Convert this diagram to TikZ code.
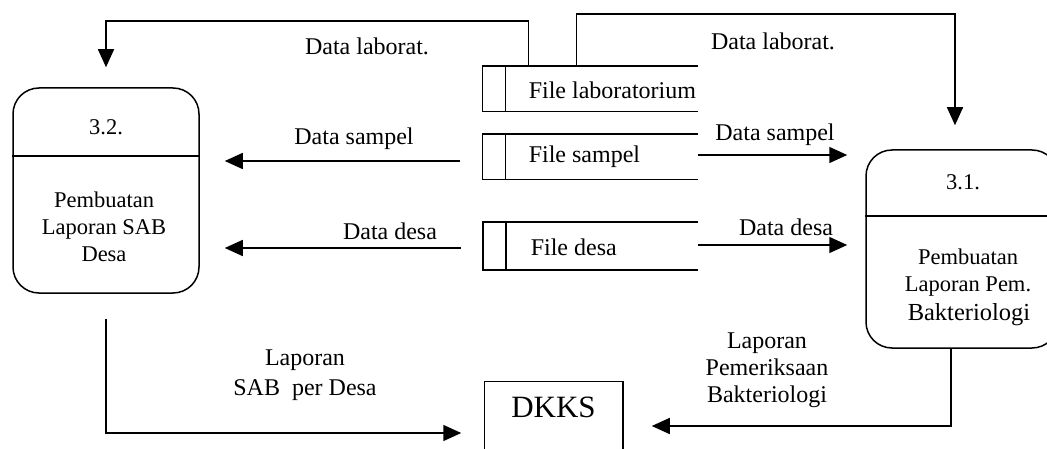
\documentclass[tikz,border=0pt]{standalone}
\usepackage{fontspec}
\setmainfont{Liberation Serif}
\usetikzlibrary{arrows.meta}

\begin{document}
\begin{tikzpicture}[x=1pt,y=-1pt,
  line width=1.5pt,
  flow/.style={-{Triangle[length=18pt,width=16pt]}},
  proc/.style={draw,rounded corners=26pt,minimum width=#1,inner sep=0pt},
  store/.style={inner sep=0pt,minimum width=214pt,minimum height=44pt},
  lbl/.style={font=\fontsize{24}{27}\selectfont,align=center,inner sep=0pt},
  boxtxt/.style={font=\fontsize{22.5}{27}\selectfont,align=center,inner sep=0pt},
  storetxt/.style={font=\fontsize{24}{27}\selectfont,anchor=west,inner sep=0pt},
]
\useasboundingbox (0,0) rectangle (1047,449);

% processes
\node[proc=186pt,minimum height=205pt] (p32) at (106,190.5) {};
\draw ([yshift=-69pt]p32.north west) -- ([yshift=-69pt]p32.north east);
\node[boxtxt] (n32) at (106,127) {3.2.};
\node[boxtxt] (t32) at (104,227) {Pembuatan\\Laporan SAB\\Desa};

% the right-hand process runs slightly past the page edge
\node[proc=192pt,minimum height=198pt] (p31) at (962,249) {};
\draw ([yshift=-67pt]p31.north west) -- ([yshift=-67pt]p31.north east);
\node[boxtxt] (n31) at (963,182) {3.1.};
\node[boxtxt] (t31) at (968,273) {Pembuatan\\Laporan Pem.};
\node[boxtxt,font=\fontsize{24.5}{27}\selectfont] (b31) at (969,315) {Bakteriologi};

% data stores (open on the right)
\node[store] (flab) at (590,89) {};
\node[store] (fsam) at (590,157) {};
\node[store,minimum height=46pt] (fdes) at (590.5,246) {};
\foreach \s in {flab,fsam,fdes}{
  \draw (\s.north east) -- (\s.north west) -- (\s.south west) -- (\s.south east);
  \draw ([xshift=23pt]\s.north west) -- ([xshift=23pt]\s.south west);
}
\node[storetxt] (tlab) at (528,90) {File laboratorium};
\node[storetxt] (tsam) at (528,157) {File sampel};
\node[storetxt] (tdes) at (530,247) {File desa};

% external entity (bottom edge runs off the page)
\node[inner sep=0pt,minimum width=137pt,minimum height=50pt,
      font=\fontsize{31}{34}\selectfont] (dkks) at (553.5,407) {DKKS};
\draw ([yshift=-60pt]dkks.south west) -- (dkks.north west) -- (dkks.north east)
      -- ([yshift=-60pt]dkks.south east);

% laboratory data to both processes
\draw[flow,shorten >=20pt] ([xshift=46pt]flab.north west) -- ++(0,-45) -| (p32.north);
\draw[flow,shorten >=24pt] ([xshift=94pt]flab.north west) -- ++(0,-52) -| ([xshift=-7pt]p31.north);
\node[lbl] (ldl) at (367,46) {Data laborat.};
\node[lbl] (rdl) at (773,41) {Data laborat.};

% sample and village data
\draw[flow,shorten <=22pt,shorten >=25pt] ([yshift=-4pt]fsam.west) -- ([yshift=-4pt]fsam.west -| p32.east);
\draw[flow,shorten <=22pt,shorten >=25pt] ([yshift=-2pt]fdes.west) -- ([yshift=-2pt]fdes.west -| p32.east);
\draw[flow,shorten >=18pt] ([yshift=2pt]fsam.east) -- ([yshift=2pt]fsam.east -| p31.west);
\draw[flow,shorten >=18pt] ([yshift=1pt]fdes.east) -- ([yshift=1pt]fdes.east -| p31.west);
\node[lbl] (lds) at (354,139) {Data sampel};
\node[lbl] (rds) at (775,135) {Data sampel};
\node[lbl] (ldd) at (390,231) {Data desa};
\node[lbl] (rdd) at (786,227) {Data desa};

% reports to DKKS
\draw[flow,shorten <=25pt,shorten >=23pt] (p32.south) |- ([yshift=-26pt]dkks.west);
\draw[flow,shorten >=29pt] ([xshift=-11pt]p31.south) |- ([yshift=-19pt]dkks.east);
\node[lbl,font=\fontsize{24}{30}\selectfont] (lsab) at (305,375) {Laporan\\SAB\ \ per Desa};
\node[lbl] (lbak) at (767,370) {Laporan\\Pemeriksaan\\Bakteriologi};
\end{tikzpicture}
\end{document}
